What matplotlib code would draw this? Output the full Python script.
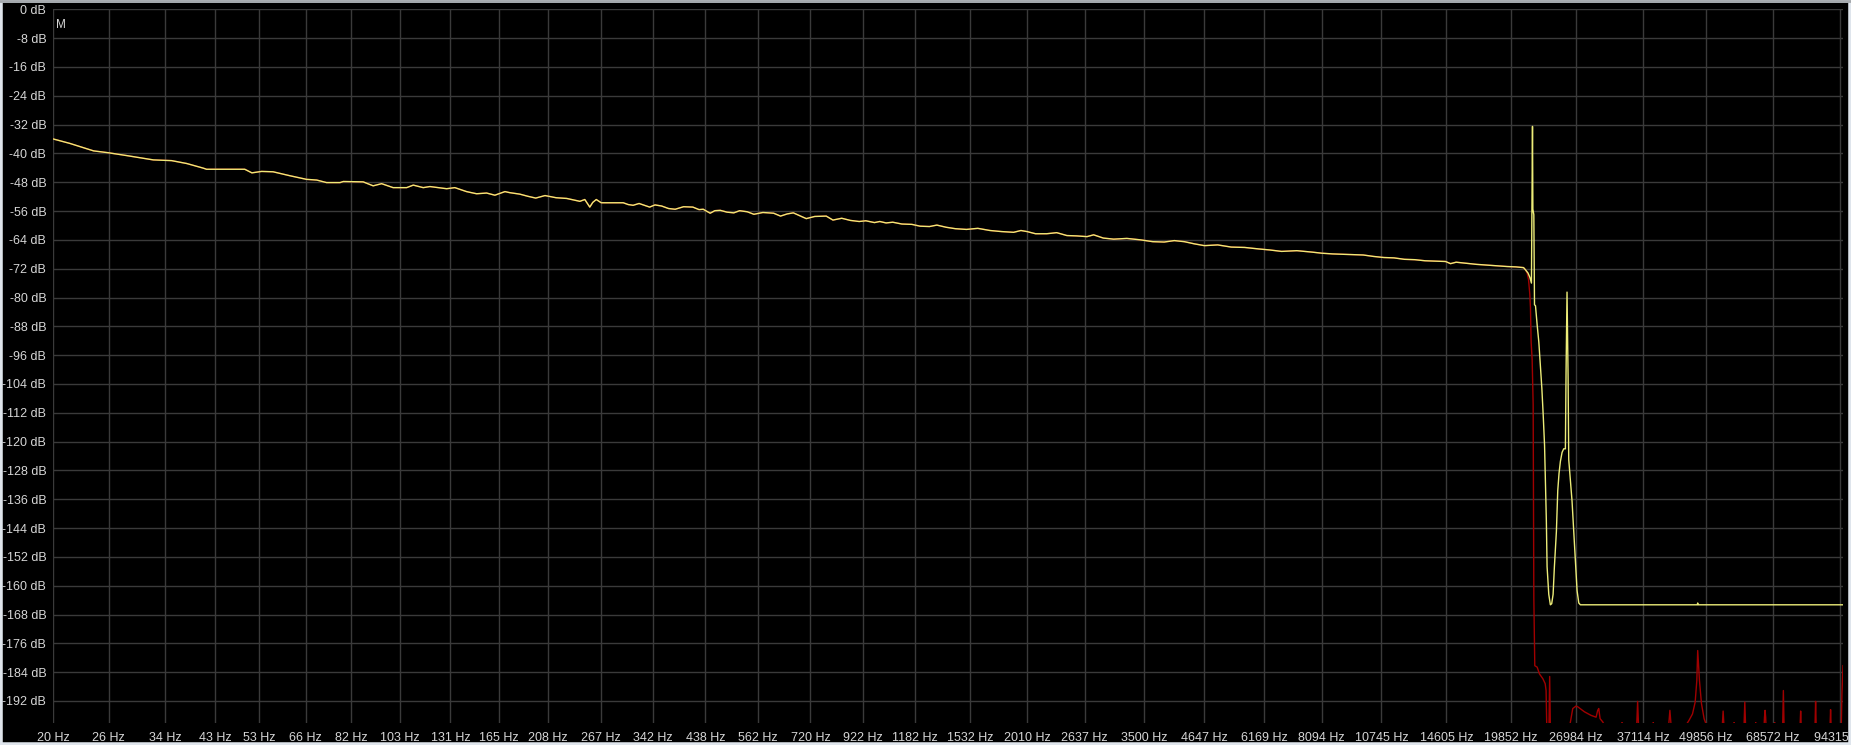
import matplotlib.pyplot as plt
from matplotlib.patches import Rectangle
from matplotlib.lines import Line2D

plt.rcParams['font.family'] = ['Liberation Sans', 'DejaVu Sans']

# axis ticks
x_ticks = [20, 26, 34, 43, 53, 66, 82, 103, 131, 165, 208, 267, 342, 438, 562, 720, 922,
           1182, 1532, 2010, 2637, 3500, 4647, 6169, 8094, 10745, 14605, 19852, 26984,
           37114, 49856, 68572, 94315]
y_ticks = [0, -8, -16, -24, -32, -40, -48, -56, -64, -72, -80, -88, -96, -104, -112, -120,
           -128, -136, -144, -152, -160, -168, -176, -184, -192]

# yellow trace: passband (shared with the red trace)
pass_hz = [20, 21.6, 24.2, 25.9, 28.3, 32.1, 35.0, 37.6, 40.7, 41.3, 49.5, 51.2, 53.6, 56.6,
           61.3, 66.3, 69.6, 72.9, 77.7, 78.9, 86.7, 90.9, 94.6, 99.9, 106.5, 109.9, 115.2,
           118.9, 128.7, 133.8, 141.4, 148.3, 155.5, 161.7, 169.6, 173.6, 181.9, 189, 196.2,
           205.0, 216, 227.2, 241.8, 247.5, 253.4, 257, 261.3, 267.5, 296.9, 304, 311.1, 320,
           336.4, 345, 356, 368, 379.6, 395, 412.7, 425, 433.5, 448, 458, 470, 485, 501, 515,
           534, 551, 575, 605, 625, 645, 664, 685, 706, 735, 776, 801, 835, 870, 907, 936,
           975, 1000, 1030, 1063, 1110, 1164, 1210, 1265, 1310, 1369, 1430, 1507, 1590, 1685,
           1780, 1884, 1950, 2008, 2090, 2203, 2310, 2424, 2540, 2666, 2751, 2880, 3025, 3220,
           3438, 3640, 3842, 4030, 4227, 4430, 4647, 4950, 5276, 5620, 5992, 6330, 6698, 7200,
           7737, 8100, 8521, 9380, 9860, 10350, 10870, 11400, 11980, 12580, 13200, 13850,
           14550, 14900, 15300, 16040, 16850, 17680, 18550, 19490, 20300, 21050, 21240]
pass_db = [-36.0, -37.2, -39.3, -39.8, -40.6, -41.8, -42.0, -42.8, -44.1, -44.4, -44.4, -45.4,
           -45.0, -45.1, -46.2, -47.2, -47.4, -48.1, -48.1, -47.8, -47.9, -49.0, -48.4, -49.5,
           -49.5, -48.8, -49.5, -49.2, -49.8, -49.5, -50.6, -51.2, -51.0, -51.6, -50.6, -50.9,
           -51.3, -51.9, -52.4, -51.7, -52.3, -52.5, -53.3, -52.8, -54.9, -53.6, -52.8, -53.7,
           -53.7, -54.2, -54.4, -53.9, -54.9, -54.3, -54.6, -55.3, -55.5, -54.8, -54.9, -55.6,
           -55.5, -56.6, -55.9, -55.8, -56.3, -56.5, -55.9, -56.2, -56.9, -56.4, -56.6, -57.4,
           -56.8, -56.5, -57.3, -58.1, -57.5, -57.4, -58.5, -58.0, -58.6, -58.9, -58.7, -59.2,
           -58.9, -59.3, -59.1, -59.6, -59.7, -60.2, -60.3, -59.9, -60.5, -60.9, -61.1, -60.8,
           -61.4, -61.7, -61.9, -61.4, -61.7, -62.3, -62.3, -62.0, -62.8, -62.9, -63.1, -62.6,
           -63.5, -63.8, -63.6, -64.0, -64.5, -64.6, -64.2, -64.5, -65.1, -65.6, -65.4, -66.0,
           -66.1, -66.5, -66.8, -67.2, -67.0, -67.4, -67.7, -67.9, -68.1, -68.2, -68.6, -68.9,
           -69.0, -69.4, -69.5, -69.8, -69.9, -70.0, -70.6, -70.2, -70.5, -70.8, -71.0, -71.2,
           -71.4, -71.5, -71.7, -72.3]

# yellow trace: transition + stopband
yel_tail_hz = [21500, 21700, 21850, 21900, 21960, 22000, 22100, 22170, 22275, 22450, 22630,
               22800, 22950, 23100, 23250, 23350, 23450, 23530, 23720, 23900, 24050, 24210,
               24360, 24590, 24750, 24900, 25060, 25260, 25460, 25660, 25740, 25860, 25990,
               26070, 26280, 26480, 26700, 26900, 27120, 27340, 27550, 47900, 48000, 48100,
               95500]
yel_tail_db = [-73.2, -74.5, -76.0, -55.0, -32.5, -55.5, -57.0, -82.0, -82.3, -87.6, -92.4,
               -99.0, -105.0, -112.5, -121.0, -131.0, -142.0, -154.7, -162.4, -165.3, -165.0,
               -162.4, -154.7, -145.0, -133.6, -128.8, -125.5, -123.0, -122.0, -122.0, -101.0,
               -78.5, -102.0, -125.0, -131.0, -136.5, -145.0, -152.8, -161.4, -164.8, -165.3,
               -165.3, -164.8, -165.3, -165.3]

# red trace: transition + residual spurs
red_tail_hz = [21410, 21550, 21680, 21750, 21820, 21925, 22030, 22100, 22200, 22450, 22700,
               23060, 23320, 23420, 23500, 23740, 23820, 23900, 26000, 26240, 26570, 26990,
               27200, 28080, 28980, 29670, 29900, 30050, 30240, 30620, 31100, 33450, 33550,
               33650, 35950, 36120, 36290, 38800, 38890, 38980, 41800, 42080, 42360, 45030,
               46100, 46830, 47430, 47800, 48000, 48400, 48860, 49480, 50270, 53900, 54140,
               54380, 56900, 57020, 57140, 59750, 59990, 60230, 63050, 63170, 63290, 65700,
               65850, 66030, 66210, 66350, 68980, 69110, 69240, 71750, 72000, 72250, 77900,
               78140, 78380, 83620, 83870, 84120, 89780, 90030, 90280, 94690, 95000, 95500]
red_tail_db = [-73.2, -75.0, -79.0, -82.8, -92.4, -97.2, -109.7, -163.4, -182.2, -182.6, -184.5,
               -185.8, -187.2, -189.1, -199.5, -199.5, -185.2, -199.5, -199.5, -198.3, -194.1,
               -193.4, -193.6, -195.0, -196.0, -196.5, -194.6, -194.1, -196.9, -197.8, -199.5,
               -199.5, -198.0, -199.5, -199.5, -192.1, -199.5, -199.5, -198.0, -199.5, -199.5,
               -194.6, -199.5, -199.5, -197.3, -195.6, -192.3, -186.3, -178.0, -186.3, -192.7,
               -196.9, -199.5, -199.5, -194.8, -199.5, -199.5, -198.0, -199.5, -199.5, -192.3,
               -199.5, -199.5, -198.0, -199.5, -199.5, -196.5, -194.6, -196.5, -199.5, -199.5,
               -198.0, -199.5, -199.5, -189.1, -199.5, -199.5, -194.8, -199.5, -199.5, -192.1,
               -199.5, -199.5, -194.4, -199.5, -199.5, -190.0, -182.2]

txt = '#d6d6d6'
grid_c = '#3a3a3a'

fig = plt.figure(figsize=(18.51, 7.45), dpi=100, facecolor='black')
ax = fig.add_axes([0.0288, 0.0291, 0.9669, 0.9584], facecolor='black')

ax.plot(pass_hz + red_tail_hz, pass_db + red_tail_db, color='#a00000', lw=1.0, zorder=2)
ax.plot(pass_hz + yel_tail_hz, pass_db + yel_tail_db, color='#ecec78', lw=1.0, zorder=3)

ax.set_xscale('log')
ax.set_xlim(20, 95500)
ax.set_ylim(-198.2, 0)

ax.set_xticks(x_ticks)
ax.set_xticklabels([f'{v} Hz' for v in x_ticks])
ax.xaxis.set_minor_locator(plt.NullLocator())
ax.set_yticks(y_ticks)
ax.set_yticklabels([f'{v} dB' for v in y_ticks])
ax.tick_params(axis='both', length=0, colors=txt, labelsize=9)
ax.tick_params(axis='x', pad=6)
ax.tick_params(axis='y', pad=5)
ax.grid(True, color=grid_c, lw=1.0, zorder=0)
for s in ax.spines.values():
    s.set_visible(False)

ax.text(0.0015, 0.987, 'M', transform=ax.transAxes, color=txt, fontsize=8.5, va='top', ha='left')

# window frame
fig.add_artist(Rectangle((0, 0), 1, 1, transform=fig.transFigure, fill=False,
                         edgecolor='#dfe5ec', lw=4))
fig.add_artist(Line2D([0, 1], [0.999, 0.999], transform=fig.transFigure, color='#a4a8ac', lw=2))

fig.savefig('out.png', dpi=100, facecolor='black')
